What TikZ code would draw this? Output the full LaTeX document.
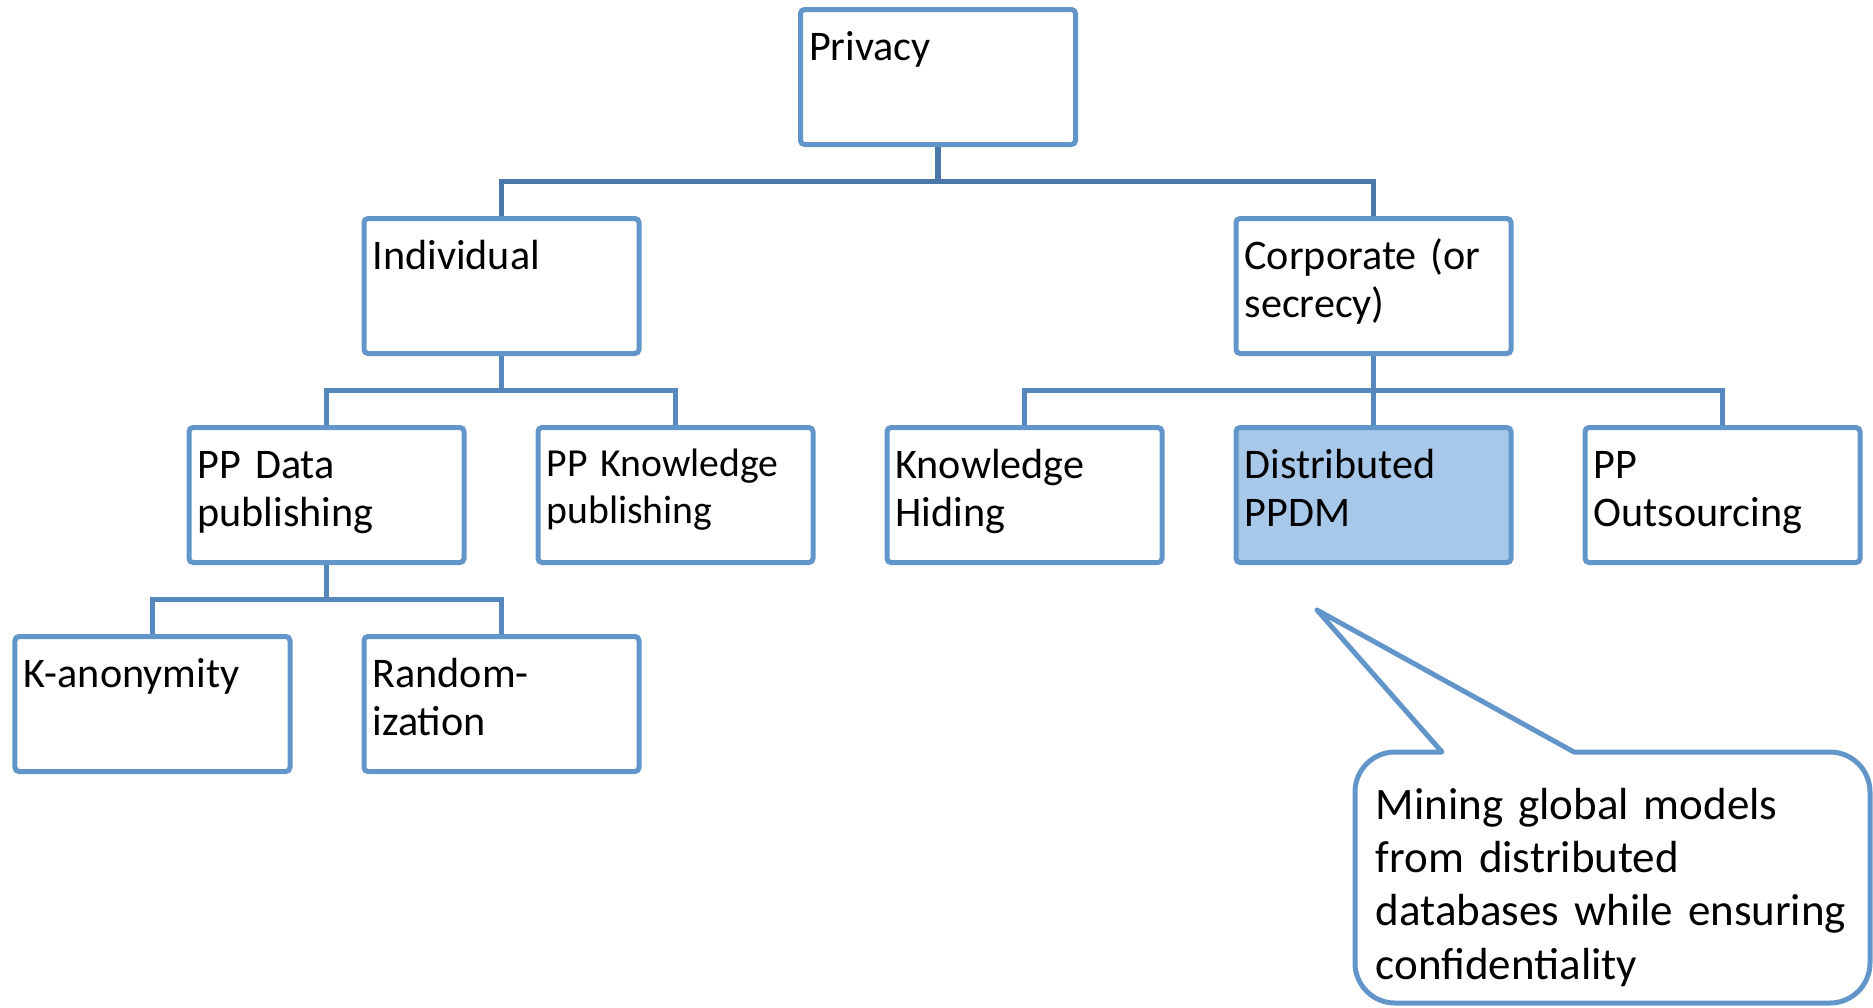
\documentclass[tikz,border=0pt]{standalone}
\usepackage{fontspec}
\setmainfont[WordSpace=0.8]{Carlito}
\usetikzlibrary{positioning,calc}

\definecolor{boxline}{RGB}{98,150,203}
\definecolor{linkline}{RGB}{86,136,190}
\definecolor{toplinkline}{RGB}{74,120,168}
\definecolor{ppdmfill}{RGB}{168,200,234}

\tikzset{
  box/.style={draw=boxline, line width=0.5mm, rounded corners=0.4mm,
    inner xsep=0.85mm, inner ysep=0mm, text width=25.8mm, align=left,
    text height=5.05mm, text depth=8.45mm, font=\fontsize{12}{13.9}\selectfont},
  smallbox/.style={box, text height=4.85mm, text depth=8.65mm,
    font=\fontsize{11.3}{13.4}\selectfont},
  link/.style={draw=linkline, line width=0.55mm},
  toplink/.style={draw=toplinkline, line width=0.55mm},
  callout/.style={draw=boxline, line width=0.5mm, line join=round},
  note/.style={inner sep=0mm, text width=50mm, align=left,
    font=\fontsize{12.8}{15.2}\selectfont}
}

\begin{document}
\begin{tikzpicture}[x=1mm, y=1mm, node distance=6.9mm]
\useasboundingbox (0,0) rectangle (187.3,-100.7);

% top level
\node[box] (privacy) at (93.8,-7.7) {Privacy};

% second row
\node[box] (ppdata) at (32.65,-49.5) {PP Data\\publishing};
\node[smallbox, right=of ppdata] (ppknow) {PP Knowledge\\publishing};
\node[box, right=of ppknow] (khiding) {Knowledge\\Hiding};
\node[box, right=of khiding, fill=ppdmfill] (dppdm) {Distributed\\PPDM};
\node[box, right=of dppdm] (ppout) {PP\\Outsourcing};

% first row
\node[box] (individual) at (50.15,-28.6) {Individual};
\node[box, above=of dppdm] (corporate) {Corporate (or\\secrecy)};

% third row
\node[box] (kanon) at (15.25,-70.4) {K-anonymity};
\node[box, right=of kanon] (random) {Random-\\ization};

% connectors
\draw[toplink] (privacy.south) -- ++(0,-3.45) coordinate (bus1);
\draw[toplink] (individual.north) |- (bus1) -| (corporate.north);

\draw[link] (individual.south) -- ++(0,-3.45) coordinate (bus2);
\draw[link] (ppdata.north) |- (bus2) -| (ppknow.north);

\draw[link] (corporate.south) -- (dppdm.north);
\coordinate (bus3) at ($(corporate.south)!.5!(dppdm.north)$);
\draw[link] (khiding.north) |- (bus3) -| (ppout.north);

\draw[link] (ppdata.south) -- ++(0,-3.45) coordinate (bus4);
\draw[link] (kanon.north) |- (bus4) -| (random.north);

% callout
\coordinate (tip) at (131.7,-61.0);
\draw[callout] (tip) -- (144.2,-75.2) -- (139.5,-75.2)
  arc[start angle=90, end angle=180, radius=4mm] -- (135.5,-96.3)
  arc[start angle=180, end angle=270, radius=4mm] -- (183.0,-100.3)
  arc[start angle=270, end angle=360, radius=4mm] -- (187.0,-79.2)
  arc[start angle=0, end angle=90, radius=4mm] -- (157.4,-75.2) -- cycle;
\node[note, anchor=base west] (notetext) at (137.5,-81.9)
  {Mining global models\\from distributed\\databases while ensuring\\confidentiality};
\end{tikzpicture}
\end{document}
